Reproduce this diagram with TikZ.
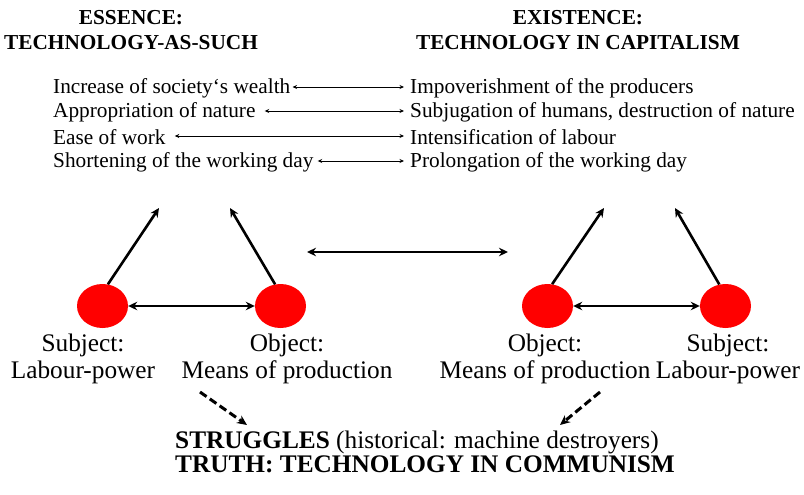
\documentclass[tikz,border=0pt]{standalone}
\usepackage{fontspec}
\setmainfont{Liberation Serif}
\usetikzlibrary{arrows.meta,shapes.geometric}
\begin{document}
\begin{tikzpicture}[x=1pt,y=-1pt,
  hdr/.style={font=\fontsize{21.3}{25}\selectfont\bfseries, align=center, inner sep=0pt},
  item/.style={font=\fontsize{21.3}{22}\selectfont, inner sep=0pt, anchor=west},
  lbl/.style={font=\fontsize{25.3}{27}\selectfont, align=center, inner sep=0pt},
  dot/.style={ellipse, fill=red, minimum width=51pt, minimum height=44pt, inner sep=0pt},
  small/.style={{Stealth[length=4.5pt,width=4pt]}-{Stealth[length=4.5pt,width=4pt]}, line width=0.8pt},
  big/.style={-{Stealth[length=9pt,width=8.5pt]}, line width=2.6pt},
  bigb/.style={{Stealth[length=9pt,width=8.5pt]}-{Stealth[length=9pt,width=8.5pt]}, line width=2.6pt},
  dashline/.style={-{Stealth[length=10pt,width=9pt]}, line width=3pt, dash pattern=on 8pt off 4pt}
]
\useasboundingbox (0,0) rectangle (804,495);
% headers
\node[hdr] (h1) at (131,30) {ESSENCE:\\TECHNOLOGY-AS-SUCH};
\node[hdr] (h2) at (578,30) {EXISTENCE:\\TECHNOLOGY IN CAPITALISM};
% list
\node[item] (l1) at (53,88) {Increase of society‘s wealth};
\node[item] (l2) at (53,112) {Appropriation of nature};
\node[item] (l3) at (53,137) {Ease of work};
\node[item] (l4) at (53,162) {Shortening of the working day};
\node[item] (r1) at (410,88) {Impoverishment of the producers};
\node[item] (r2) at (410,112) {Subjugation of humans, destruction of nature};
\node[item] (r3) at (410,137) {Intensification of labour};
\node[item] (r4) at (410,162) {Prolongation of the working day};
\draw[small] ([xshift=2pt,yshift=1pt]l1.east) -- ([xshift=-6pt,yshift=1pt]r1.west);
\draw[small] ([xshift=9pt,yshift=1pt]l2.east) -- ([xshift=-6pt,yshift=1pt]r2.west);
\draw[small] ([xshift=9pt,yshift=1pt]l3.east) -- ([xshift=-6pt,yshift=1pt]r3.west);
\draw[small] ([xshift=4pt,yshift=1pt]l4.east) -- ([xshift=-6pt,yshift=1pt]r4.west);
% dots
\node[dot] (s1) at (102.5,306) {};
\node[dot] (o1) at (280.5,306) {};
\node[dot] (o2) at (547.5,306) {};
\node[dot] (s2) at (725.5,306) {};
\coordinate (t1) at (159,208);
\coordinate (t2) at (230,208);
\coordinate (t3) at (604,208);
\coordinate (t4) at (675,208);
\draw[big] (s1.76) -- (t1);
\draw[big] (o1.104) -- (t2);
\draw[big] (o2.78) -- (t3);
\draw[big] (s2.106) -- (t4);
\draw[bigb] (s1) -- (o1);
\draw[bigb] (o2) -- (s2);
\coordinate (m1) at (307,252);
\coordinate (m2) at (508,252);
\draw[bigb] (m1) -- (m2);
% labels
\node[lbl] (ls1) at (83,359) {Subject:\\Labour-power};
\node[lbl] (lo1) at (287,359) {Object:\\Means of production};
\node[lbl] (lo2) at (545,359) {Object:\\Means of production};
\node[lbl] (ls2) at (728,359) {Subject:\\Labour-power};
% bottom
\node[font=\fontsize{25.3}{25}\selectfont, inner sep=0pt, anchor=west] (st) at (175,442) {\textbf{STRUGGLES} (historical: machine destroyers)};
\node[font=\fontsize{25.3}{25}\selectfont\bfseries, inner sep=0pt, anchor=west] (tr) at (175,464) {TRUTH: TECHNOLOGY IN COMMUNISM};
\coordinate (d1) at (200,392);
\coordinate (d2) at (600,392);
\coordinate (e1) at (247,425);
\coordinate (e2) at (560,425);
\draw[dashline] (d1) -- (e1);
\draw[dashline] (d2) -- (e2);
\end{tikzpicture}
\end{document}
